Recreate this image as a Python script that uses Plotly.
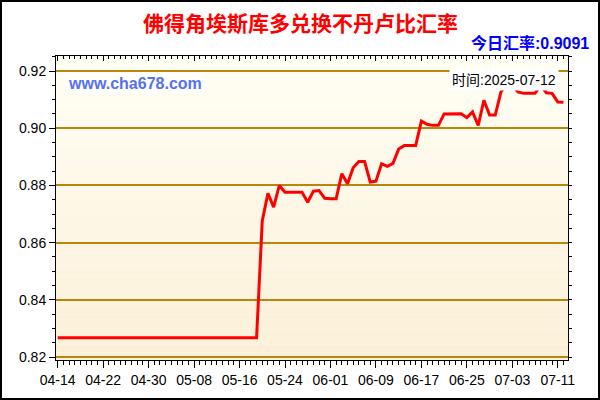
import pandas as pd
import plotly.graph_objects as go

# CVE -> BTN daily rate, 2025-04-14 .. 2025-07-12
start_date = "2025-04-14"
end_date = "2025-07-12"
rates = [
    0.8267, 0.8267, 0.8267, 0.8267, 0.8267, 0.8267, 0.8267, 0.8267, 0.8267,
    0.8267, 0.8267, 0.8267, 0.8267, 0.8267, 0.8267, 0.8267, 0.8267, 0.8267,
    0.8267, 0.8267, 0.8267, 0.8267, 0.8267, 0.8267, 0.8267, 0.8267, 0.8267,
    0.8267, 0.8267, 0.8267, 0.8267, 0.8267, 0.8267, 0.8267, 0.8267, 0.8267,
    0.8677, 0.8772, 0.8724, 0.8800, 0.8776, 0.8776, 0.8776, 0.8776, 0.8741,
    0.8780, 0.8782, 0.8755, 0.8753, 0.8753, 0.8841, 0.8806, 0.8862, 0.8884,
    0.8884, 0.8812, 0.8815, 0.8876, 0.8867, 0.8877, 0.8927, 0.8940, 0.8940,
    0.8940, 0.9025, 0.9014, 0.9010, 0.9010, 0.9050, 0.9051, 0.9051, 0.9051,
    0.9037, 0.9057, 0.9010, 0.9098, 0.9046, 0.9046, 0.9127, 0.9152, 0.9150,
    0.9127, 0.9122, 0.9122, 0.9122, 0.9150, 0.9124, 0.9122, 0.9092, 0.9091,
]
dates = pd.date_range(start_date, end_date, freq="D")

title_text = "佛得角埃斯库多兑换不丹卢比汇率"
today_text = "今日汇率:0.9091"
time_text = "时间:2025-07-12"
site_text = "www.cha678.com"

# plot area in pixels
L, R, T, B = 56, 568, 56, 360
W, H = R - L, B - T


def px_x(p):
    return (p - L) / W


def px_y(p):
    return (B - p) / H


DAY = 86400000
x_range = ["2025-04-13 16:48", "2025-07-12 19:12"]
y_range = [0.81895, 0.92526]

fig = go.Figure()

fig.add_trace(go.Scatter(
    x=dates, y=rates, mode="lines",
    line=dict(color="#FF0000", width=3),
    hoverinfo="skip", showlegend=False,
))
# invisible trace so top / right axes get drawn
fig.add_trace(go.Scatter(
    x=dates, y=rates, mode="lines", xaxis="x2", yaxis="y2",
    line=dict(width=0), opacity=0, hoverinfo="skip", showlegend=False,
))

# gradient plot background
n = 40
top_c = (255, 254, 244)
bot_c = (252, 240, 216)
for i in range(n):
    f = i / (n - 1)
    c = tuple(round(bot_c[k] + (top_c[k] - bot_c[k]) * f) for k in range(3))
    fig.add_shape(
        type="rect", xref="x domain", yref="y domain",
        x0=0, x1=1, y0=i / n, y1=(i + 1) / n,
        fillcolor="rgb(%d,%d,%d)" % c, line_width=0, layer="below",
    )

# outer black frame
fig.add_shape(
    type="rect", xref="paper", yref="paper",
    x0=px_x(1), x1=px_x(599), y0=px_y(399), y1=px_y(1),
    line=dict(color="black", width=2), fillcolor="rgba(0,0,0,0)",
)

font_main = "Liberation Sans, Arial, sans-serif"
font_cjk = "Noto Sans CJK SC, sans-serif"
font_mix = "Liberation Sans, Noto Sans CJK SC, sans-serif"

fig.add_annotation(
    text="<b>%s</b>" % title_text, xref="paper", yref="paper",
    x=px_x(300), y=px_y(22), xanchor="center", yanchor="middle",
    showarrow=False, font=dict(family=font_cjk, size=21, color="#FF0000"),
)
fig.add_annotation(
    text="<b>%s</b>" % today_text, xref="paper", yref="paper",
    x=px_x(591), y=px_y(43), xanchor="right", yanchor="middle",
    showarrow=False, font=dict(family=font_mix, size=16, color="#0000FF"),
)
fig.add_annotation(
    text="<b>%s</b>" % site_text, xref="paper", yref="paper",
    x=px_x(66), y=px_y(84), xanchor="left", yanchor="middle",
    showarrow=False, bgcolor="white", borderpad=1,
    font=dict(family=font_main, size=16, color="#5570F0"),
)
fig.add_annotation(
    text=time_text, xref="paper", yref="paper",
    x=px_x(559), y=px_y(80), xanchor="right", yanchor="middle",
    showarrow=False, bgcolor="white", borderpad=2,
    font=dict(family=font_mix, size=14, color="#000000"),
)

fig.update_layout(
    width=600, height=400,
    margin=dict(l=L, r=600 - R, t=T, b=400 - B),
    paper_bgcolor="white", plot_bgcolor="rgba(0,0,0,0)",
    font=dict(family=font_main, size=14, color="#000000"),
    xaxis=dict(
        type="date", range=x_range, tickformat="%m-%d",
        tick0=start_date, dtick=8 * DAY,
        ticks="outside", ticklen=7, tickcolor="black", tickwidth=1,
        minor=dict(dtick=DAY, tick0=start_date, ticks="outside", ticklen=4,
                   tickcolor="black", showgrid=False),
        showgrid=False, showline=True, linecolor="black", linewidth=1,
        zeroline=False, tickfont=dict(size=14),
    ),
    xaxis2=dict(
        type="date", range=x_range, overlaying="x", side="top",
        tick0=start_date, dtick=8 * DAY,
        ticks="inside", ticklen=5, tickcolor="black", showticklabels=False,
        minor=dict(dtick=DAY, tick0=start_date, ticks="inside", ticklen=3,
                   tickcolor="black", showgrid=False),
        showgrid=False, showline=True, linecolor="black", linewidth=1,
        zeroline=False,
    ),
    yaxis=dict(
        range=y_range, dtick=0.02, tick0=0.82, tickformat=".2f",
        ticks="outside", ticklen=6, tickcolor="black",
        minor=dict(dtick=0.005, tick0=0.82, ticks="outside", ticklen=3,
                   tickcolor="black", showgrid=False),
        showgrid=True, gridcolor="#B8860B", gridwidth=1.5,
        showline=True, linecolor="black", linewidth=1, zeroline=False,
        tickfont=dict(size=14),
    ),
    yaxis2=dict(
        range=y_range, overlaying="y", side="right",
        dtick=0.005, tick0=0.82, ticks="outside", ticklen=3,
        tickcolor="black", showticklabels=False, showgrid=False,
        showline=True, linecolor="black", linewidth=1, zeroline=False,
    ),
)

# page body has a default 8px margin; drop it so the figure sits at 0,0
fig.write_html(
    "out.html",
    config={"displayModeBar": False},
    post_script="document.body.style.margin='0';",
)
